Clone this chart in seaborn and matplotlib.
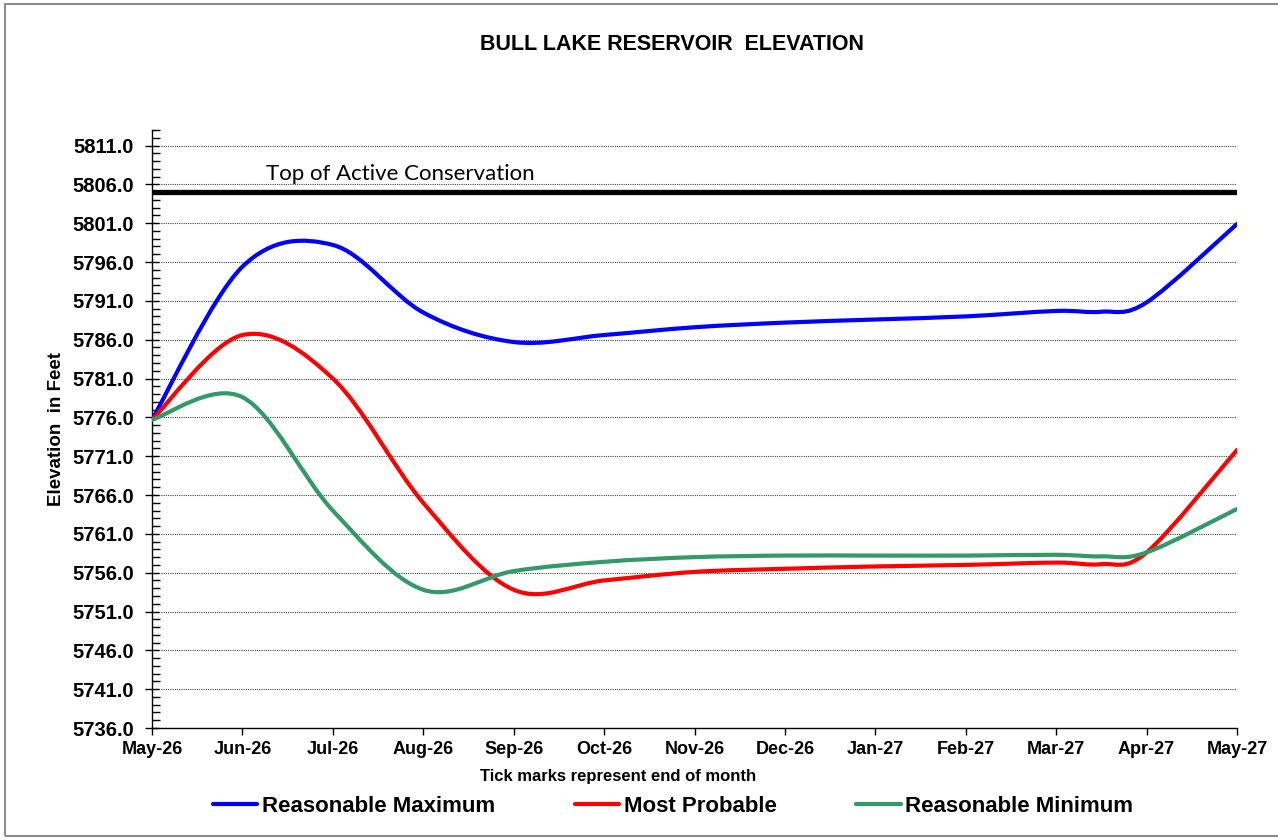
import numpy as np
import seaborn as sns
import matplotlib.pyplot as plt
from matplotlib.path import Path
from matplotlib.patches import PathPatch, Rectangle
from matplotlib.lines import Line2D
from matplotlib.ticker import MultipleLocator, FormatStrFormatter

# Month tick labels (end of month)
months = ['May-26', 'Jun-26', 'Jul-26', 'Aug-26', 'Sep-26', 'Oct-26', 'Nov-26',
          'Dec-26', 'Jan-27', 'Feb-27', 'Mar-27', 'Apr-27', 'May-27']

# Position of each data point on the month axis (one extra point mid Mar-Apr)
pos = [0, 1, 2, 3, 4, 5, 6, 7, 8, 9, 10, 10.5, 11, 12]

# Elevations (feet)
reasonable_max = [5775.7, 5795.4, 5798.2, 5789.5, 5785.7, 5786.6, 5787.6,
                  5788.2, 5788.6, 5789.0, 5789.7, 5789.6, 5790.8, 5800.9]
most_probable = [5775.7, 5786.6, 5781.0, 5765.0, 5753.8, 5755.0, 5756.1,
                 5756.5, 5756.8, 5757.0, 5757.3, 5757.1, 5758.6, 5771.8]
reasonable_min = [5775.7, 5778.6, 5764.0, 5753.8, 5756.2, 5757.4, 5758.0,
                  5758.2, 5758.2, 5758.2, 5758.3, 5758.1, 5758.6, 5764.2]

top_active = 5805.0

series = [
    ('Reasonable Maximum', reasonable_max, '#0000FF'),
    ('Most Probable', most_probable, '#FF0000'),
    ('Reasonable Minimum', reasonable_min, '#339966'),
]


def smooth_path(xs, ys):
    # Excel-style smoothed line: cubic Bezier through every point
    pts = np.column_stack([xs, ys]).astype(float)
    n = len(pts)
    verts = [pts[0]]
    codes = [Path.MOVETO]
    for i in range(n - 1):
        p0 = pts[i - 1] if i > 0 else pts[i]
        p3 = pts[i + 2] if i + 2 < n else pts[i + 1]
        c1 = pts[i] + (pts[i + 1] - p0) / 6
        c2 = pts[i + 1] - (p3 - pts[i]) / 6
        verts += [c1, c2, pts[i + 1]]
        codes += [Path.CURVE4] * 3
    return Path(verts, codes)


sns.set_style('white')
plt.rcParams['font.family'] = ['Liberation Sans', 'DejaVu Sans']
plt.rcParams.update({'text.color': 'black', 'axes.labelcolor': 'black',
                     'xtick.color': 'black', 'ytick.color': 'black'})

fig = plt.figure(figsize=(12.78, 8.4), dpi=100)
ax = fig.add_axes([152 / 1278, 1 - 728 / 840, (1237 - 152) / 1278, (728 - 130) / 840])

# Top of active conservation
sns.lineplot(x=[0, 12], y=[top_active, top_active], color='black', linewidth=3.8, ax=ax)
ax.text(1.26, top_active + 1.1, 'Top of Active Conservation', fontsize=16,
        family=['Lato', 'DejaVu Sans'], ha='left', va='bottom')

for name, vals, color in series:
    ax.add_patch(PathPatch(smooth_path(pos, vals), facecolor='none', edgecolor=color,
                           linewidth=3.0, capstyle='round', joinstyle='round', zorder=3))

ax.set_xlim(0, 12)
ax.set_ylim(5736, 5813)
ax.set_xticks(range(len(months)))
ax.set_xticklabels(months, fontsize=13, fontweight='bold')
ax.set_yticks(np.arange(5736, 5812, 5))
ax.yaxis.set_major_formatter(FormatStrFormatter('%.1f'))
ax.yaxis.set_minor_locator(MultipleLocator(1))
for lab in ax.get_yticklabels():
    lab.set_fontsize(14.5)
    lab.set_fontweight('bold')

ax.tick_params(axis='y', which='major', direction='inout', length=10, width=1, pad=8, left=True)
ax.tick_params(axis='y', which='minor', direction='in', length=6, width=1, left=True)
ax.tick_params(axis='x', which='major', direction='out', length=5, width=1, pad=4, bottom=True)

ax.yaxis.grid(True, linestyle=(0, (1, 1)), color='#444444', linewidth=0.8)
ax.xaxis.grid(False)
for side in ['top', 'right']:
    ax.spines[side].set_visible(False)
for side in ['left', 'bottom']:
    ax.spines[side].set_color('black')
    ax.spines[side].set_linewidth(1)

ax.set_ylabel('Elevation  in Feet', fontsize=13.5, fontweight='bold', labelpad=5)
fig.text(618 / 1278, 1 - 777 / 840, 'Tick marks represent end of month', fontsize=12,
         fontweight='bold', ha='center', va='center')
fig.text(672 / 1278, 1 - 45 / 840, 'BULL LAKE RESERVOIR  ELEVATION', fontsize=15.5,
         fontweight='bold', ha='center', va='center')

handles = [Line2D([], [], color=c, linewidth=3.0) for _, _, c in series]
fig.legend(handles, [n for n, _, _ in series], loc='center', ncol=3,
           bbox_to_anchor=(673 / 1278, 1 - 806 / 840), frameon=False,
           prop={'size': 16, 'weight': 'bold'}, handlelength=2.0,
           handletextpad=0.2, columnspacing=3.6)

# Chart area border
fig.patches.append(Rectangle((5 / 1278, 4 / 840), 1.1, 1 - 8 / 840, transform=fig.transFigure,
                             fill=False, edgecolor='#8c8c8c', linewidth=1.5))

fig.savefig('out.png', dpi=100)
